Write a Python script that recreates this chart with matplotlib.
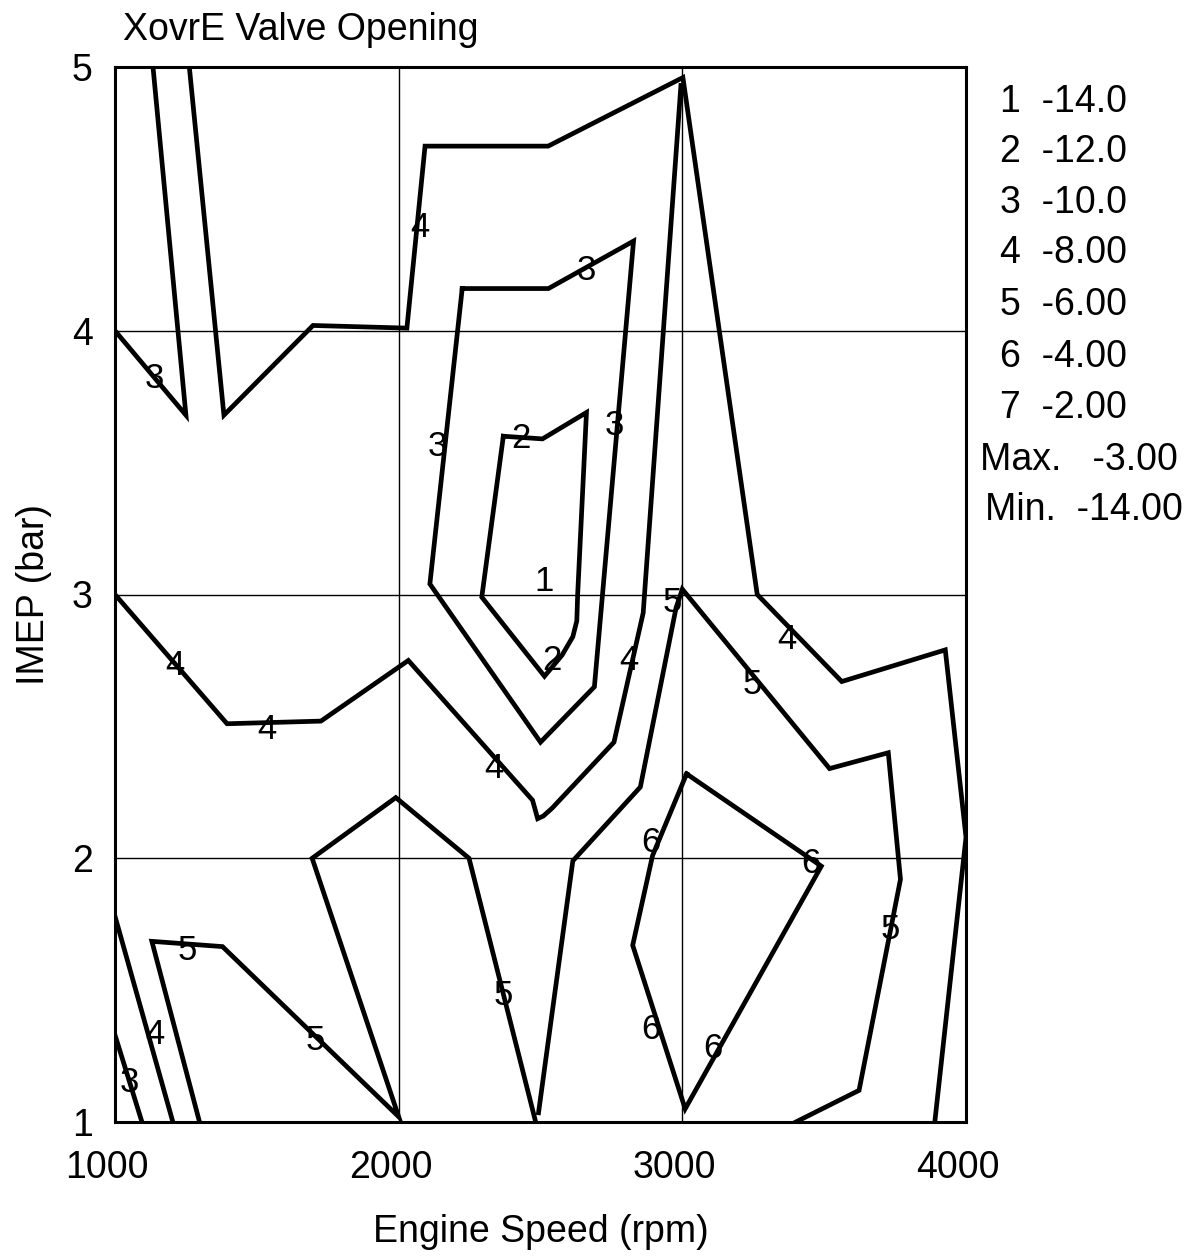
import matplotlib
matplotlib.use("Agg")
import matplotlib.pyplot as plt
from matplotlib.transforms import ScaledTranslation

plt.rcParams['font.family'] = ['Liberation Sans', 'DejaVu Sans']

# contour lines (rpm, bar)
c3_topleft_x = [1000, 1250, 1134]
c3_topleft_y = [4.0, 3.68, 5.0]

c4_top_x = [1262, 1384, 1698, 2029, 2093, 2527, 3002, 3264, 3562, 3927, 4000, 3890]
c4_top_y = [5.0, 3.68, 4.02, 4.01, 4.70, 4.70, 4.96, 3.0, 2.67, 2.79, 2.08, 1.0]

c4_mid_x = [1000, 1395, 1726, 2034, 2472, 2490, 2510, 2541, 2759, 2862, 2995]
c4_mid_y = [3.0, 2.51, 2.52, 2.75, 2.22, 2.15, 2.16, 2.19, 2.44, 2.93, 4.93]

c3_mid_x = [2224, 2528, 2828, 2690, 2500, 2110, 2224]
c3_mid_y = [4.16, 4.16, 4.34, 2.65, 2.44, 3.04, 4.16]

c2_x = [2369, 2507, 2662, 2631, 2628, 2614, 2576, 2514, 2293, 2369]
c2_y = [3.60, 3.59, 3.69, 3.0, 2.90, 2.84, 2.77, 2.69, 2.99, 3.60]

c5_left_x = [1298, 1130, 1379, 2000, 1695, 1990, 2248, 2483]
c5_left_y = [1.0, 1.685, 1.665, 1.02, 2.0, 2.23, 2.0, 1.0]

c5_right_x = [2493, 2614, 2852, 2978, 3000, 3519, 3726, 3769, 3623, 3400]
c5_right_y = [1.035, 1.99, 2.27, 2.95, 3.02, 2.34, 2.40, 1.92, 1.12, 1.0]

c6_x = [3015, 3490, 3010, 2825, 2895, 3015]
c6_y = [2.32, 1.97, 1.05, 1.67, 2.01, 2.32]

c4_low_x = [1000, 1204]
c4_low_y = [1.78, 1.0]

c3_low_x = [1000, 1095]
c3_low_y = [1.33, 1.0]

contours = [
    (c3_topleft_x, c3_topleft_y), (c4_top_x, c4_top_y), (c4_mid_x, c4_mid_y),
    (c3_mid_x, c3_mid_y), (c2_x, c2_y), (c5_left_x, c5_left_y),
    (c5_right_x, c5_right_y), (c6_x, c6_y), (c4_low_x, c4_low_y),
    (c3_low_x, c3_low_y),
]

# inline level numbers
label_text = ["4", "3", "3", "3", "2", "1", "2", "3", "4", "4", "4", "4", "5",
              "4", "5", "6", "6", "5", "5", "4", "5", "5", "6", "6", "3"]
label_x = [2076, 2662, 2759, 2138, 2431, 2514, 2541, 1140, 1211, 1537, 2334, 2810,
           2966, 3370, 3246, 2890, 3453, 3732, 1253, 1140, 1705, 2367, 2890, 3109, 1049]
label_y = [4.39, 4.23, 3.64, 3.56, 3.59, 3.05, 2.75, 3.82, 2.73, 2.49, 2.34, 2.75,
           2.97, 2.83, 2.66, 2.06, 1.98, 1.73, 1.65, 1.33, 1.31, 1.48, 1.35, 1.28, 1.15]

key_rows = ["1  -14.0", "2  -12.0", "3  -10.0", "4  -8.00", "5  -6.00",
            "6  -4.00", "7  -2.00"]
max_text = "Max.   -3.00"
min_text = "Min.  -14.00"

W, H = 1199, 1258
fig = plt.figure(figsize=(W / 100, H / 100), dpi=100)
ax = fig.add_axes([115 / W, 1 - 1122 / H, (966 - 115) / W, (1122 - 67) / H])

for xs, ys in contours:
    ax.plot(xs, ys, color="black", lw=3.4, solid_joinstyle="miter", zorder=3)

for t, x, y in zip(label_text, label_x, label_y):
    ax.text(x, y, t, fontsize=25, ha="center", va="center", zorder=4)

ax.set_xlim(1000, 4000)
ax.set_ylim(1, 5)
ax.set_xticks([1000, 2000, 3000, 4000])
ax.set_yticks([1, 2, 3, 4, 5])
ax.grid(True, color="black", lw=1.0)
ax.tick_params(axis="both", length=0, labelsize=27)
ax.tick_params(axis="x", pad=20)
ax.tick_params(axis="y", pad=16)
for s in ax.spines.values():
    s.set_linewidth(2.2)

# tick labels sit a little left of the grid lines in the original
shift = ScaledTranslation(-8 / 100, 0, fig.dpi_scale_trans)
for lbl in ax.get_xticklabels():
    lbl.set_transform(lbl.get_transform() + shift)

ax.set_xlabel("Engine Speed (rpm)", fontsize=27, labelpad=20)
ax.set_ylabel("IMEP (bar)", fontsize=27, labelpad=14)

fig.text(123 / W, 1 - 30 / H, "XovrE Valve Opening", fontsize=27, ha="left", va="center")

row_y = [102, 152, 203, 253, 305, 357, 408]
for t, y in zip(key_rows, row_y):
    fig.text(1000 / W, 1 - y / H, t, fontsize=27, ha="left", va="center")
fig.text(980 / W, 1 - 460 / H, max_text, fontsize=27, ha="left", va="center")
fig.text(985 / W, 1 - 510 / H, min_text, fontsize=27, ha="left", va="center")

fig.savefig("out.png", dpi=100)
